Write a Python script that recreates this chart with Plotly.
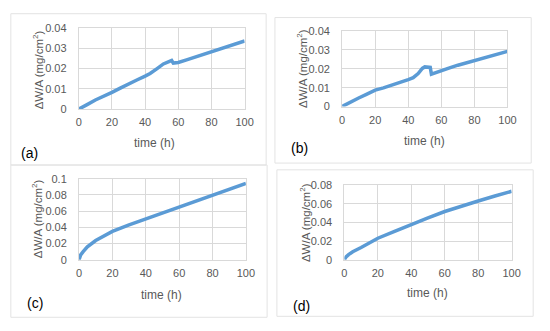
import plotly.graph_objects as go

# ---- data ----
t_a = [0, 2, 5, 10, 15, 20, 25, 30, 35, 40, 43, 47, 51, 54, 56, 57, 60, 65, 70, 75, 80, 85, 90, 95, 100]
w_a = [0, 0.0008, 0.0022, 0.0045, 0.0062, 0.0082, 0.0103, 0.0125, 0.0143, 0.0162, 0.0175, 0.0198, 0.0222,
       0.0232, 0.0239, 0.0226, 0.0229, 0.0242, 0.0255, 0.0267, 0.028, 0.0293, 0.0306, 0.032, 0.0335]

t_b = [0, 2, 5, 10, 15, 20, 25, 30, 35, 40, 43, 46, 48.5, 50, 52.8, 53.3, 54, 57, 60, 65, 70, 75, 80, 85, 90, 95, 100]
w_b = [0, 0.001, 0.0024, 0.0045, 0.0066, 0.0087, 0.0099, 0.0112, 0.0128, 0.0143, 0.0153, 0.0175, 0.0202,
       0.021, 0.0211, 0.0207, 0.0172, 0.0182, 0.0192, 0.0205, 0.0219, 0.0231, 0.0244, 0.0256, 0.0268, 0.028, 0.0292]

t_c = [0, 1, 2.5, 5, 10, 15, 20, 30, 40, 50, 60, 70, 80, 90, 100]
w_c = [0, 0.006, 0.010, 0.0159, 0.0238, 0.0298, 0.035, 0.043, 0.0504, 0.058, 0.0655, 0.073, 0.0806, 0.0876, 0.0944]

t_d = [0, 1, 2.5, 5, 10, 15, 20, 30, 40, 50, 60, 70, 80, 90, 100]
w_d = [0, 0.003, 0.0055, 0.0086, 0.0131, 0.0183, 0.0231, 0.0305, 0.038, 0.045, 0.0518, 0.0578, 0.0631, 0.0685, 0.0735]

panel_labels = ["(a)", "(b)", "(c)", "(d)"]
y_ranges = [[0, 0.04], [0, 0.04], [0, 0.1], [0, 0.08]]
y_dticks = [0.01, 0.01, 0.02, 0.02]
x_title = "time (h)"
y_title = "ΔW/A (mg/cm<sup>2</sup>)"

W, H = 550, 331
def px(x): return x / W
def py(y): return 1 - y / H

# plot areas in pixels (left, right, top, bottom)
areas = [(77.5, 247, 22.5, 107), (346.7, 515.7, 26, 104.3), (77.7, 248.3, 179.3, 263.3), (349, 520, 186, 263.3)]
boxes = [(8, 269, 8, 165), (278, 540, 12, 163), (8, 270, 165, 323), (280, 542, 170, 322)]
ytitle_pos = [(35.5, 66), (305, 65), (35, 221), (309, 225)]
xtitle_pos = [(155, 142), (431, 140), (162, 300), (434, 298)]
label_pos = [(27, 153), (303, 147), (33, 308), (305, 311)]
ytick_gap = [9, 9, 9, 9]

series = [(t_a, w_a), (t_b, w_b), (t_c, w_c), (t_d, w_d)]

fig = go.Figure()
gray = "#d9d9d9"
FONT = "Liberation Sans, Arial, sans-serif"
tickfont = dict(family=FONT, size=11, color="#595959")
annotations = []
shapes = []
for i, (t, w) in enumerate(series):
    n = "" if i == 0 else str(i + 1)
    l, r, tp, b = areas[i]
    fig.add_trace(go.Scatter(x=t, y=w, mode="lines", line=dict(color="#5B9BD5", width=3.5),
                             xaxis="x" + n, yaxis="y" + n, showlegend=False))
    fig.layout["xaxis" + n] = dict(domain=[px(l), px(r)], range=[0, 100], dtick=20, anchor="y" + n,
                                   showgrid=True, gridcolor=gray, zeroline=False, showline=True,
                                   linecolor=gray, mirror=True, ticks="outside", ticklen=3,
                                   tickcolor="rgba(0,0,0,0)", tickfont=tickfont, fixedrange=True)
    fig.layout["yaxis" + n] = dict(domain=[py(b), py(tp)], range=y_ranges[i], dtick=y_dticks[i], anchor="x" + n,
                                   showgrid=True, gridcolor=gray, zeroline=False, showline=True,
                                   linecolor=gray, mirror=True, ticks="outside", ticklen=ytick_gap[i],
                                   tickcolor="rgba(0,0,0,0)", tickfont=tickfont, fixedrange=True)
    bl, br, bt, bb = boxes[i]
    shapes.append(dict(type="rect", xref="paper", yref="paper", x0=px(bl), x1=px(br), y0=py(bb), y1=py(bt),
                       line=dict(color="#e3e3e3", width=1)))
    annotations.append(dict(text=y_title, x=px(ytitle_pos[i][0]), y=py(ytitle_pos[i][1]), xref="paper",
                            yref="paper", textangle=-90, showarrow=False, xanchor="center", yanchor="middle",
                            font=dict(family=FONT, size=11.5, color="#595959")))
    annotations.append(dict(text=x_title, x=px(xtitle_pos[i][0]), y=py(xtitle_pos[i][1]), xref="paper",
                            yref="paper", showarrow=False, xanchor="center", yanchor="middle",
                            font=dict(family=FONT, size=12, color="#595959")))
    annotations.append(dict(text=panel_labels[i], x=px(label_pos[i][0]), y=py(label_pos[i][1]), xref="paper",
                            yref="paper", showarrow=False, xanchor="center", yanchor="middle",
                            font=dict(family=FONT, size=14, color="#000000")))

fig.update_layout(width=W, height=H, margin=dict(l=0, r=0, t=0, b=0), paper_bgcolor="white",
                  plot_bgcolor="white", annotations=annotations, shapes=shapes)
fig.write_html("out.html", config={"displayModeBar": False},
               post_script="document.body.style.margin='0';document.body.style.overflow='hidden';")
